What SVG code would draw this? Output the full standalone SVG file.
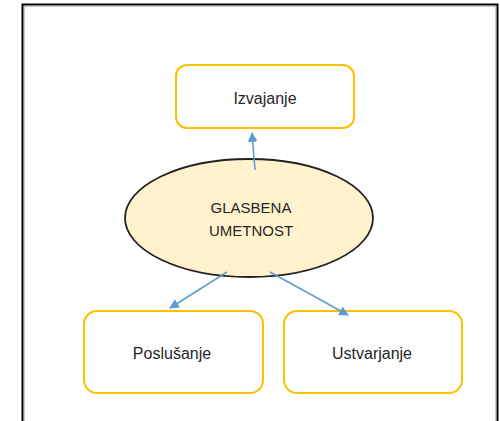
<svg xmlns="http://www.w3.org/2000/svg" width="500" height="421" viewBox="0 0 500 421">
<style>
.box{fill:#fff;stroke:#FFC000;stroke-width:2}
.lbl{font-family:"Liberation Sans",Arial,sans-serif;font-size:16px;fill:#262626;text-anchor:middle;dominant-baseline:central}
.conn{stroke:#5B9BD5;stroke-width:1.5;fill:none;marker-end:url(#ah)}
</style>
<defs>
<marker id="ah" viewBox="0 0 10 10" refX="9" refY="5" markerWidth="6.5" markerHeight="6.5" orient="auto" markerUnits="strokeWidth">
<path d="M0,0 L10,5 L0,10 z" fill="#5B9BD5"/>
</marker>
</defs>
<rect width="500" height="421" fill="#fff"/>
<path d="M22.5,421 V4.5 H497.5 V421" fill="none" stroke="#000" stroke-width="2"/>
<path d="M24.5,421 V6.5 H495.5 V421" fill="none" stroke="#bbb" stroke-width="0.8"/>
<g id="izvajanje">
<rect class="box" x="176" y="65" width="178" height="63" rx="11"/>
<text class="lbl" x="265" y="98">Izvajanje</text>
</g>
<g id="glasbena">
<ellipse cx="249" cy="218" rx="124" ry="59" fill="#FFF2CC" stroke="#222" stroke-width="1.8"/>
<text class="lbl" x="251" y="207" style="font-size:15px">GLASBENA</text>
<text class="lbl" x="251" y="230" style="font-size:15px">UMETNOST</text>
</g>
<g id="poslusanje">
<rect class="box" x="84" y="311" width="179" height="82" rx="13"/>
<text class="lbl" x="172" y="353">Poslušanje</text>
</g>
<g id="ustvarjanje">
<rect class="box" x="284" y="311" width="178" height="82" rx="13"/>
<text class="lbl" x="372" y="353">Ustvarjanje</text>
</g>
<g id="connectors">
<line class="conn" x1="255" y1="170" x2="252" y2="133"/>
<line class="conn" x1="227" y1="272" x2="170" y2="308"/>
<line class="conn" x1="270" y1="272" x2="348" y2="315"/>
</g>
</svg>
